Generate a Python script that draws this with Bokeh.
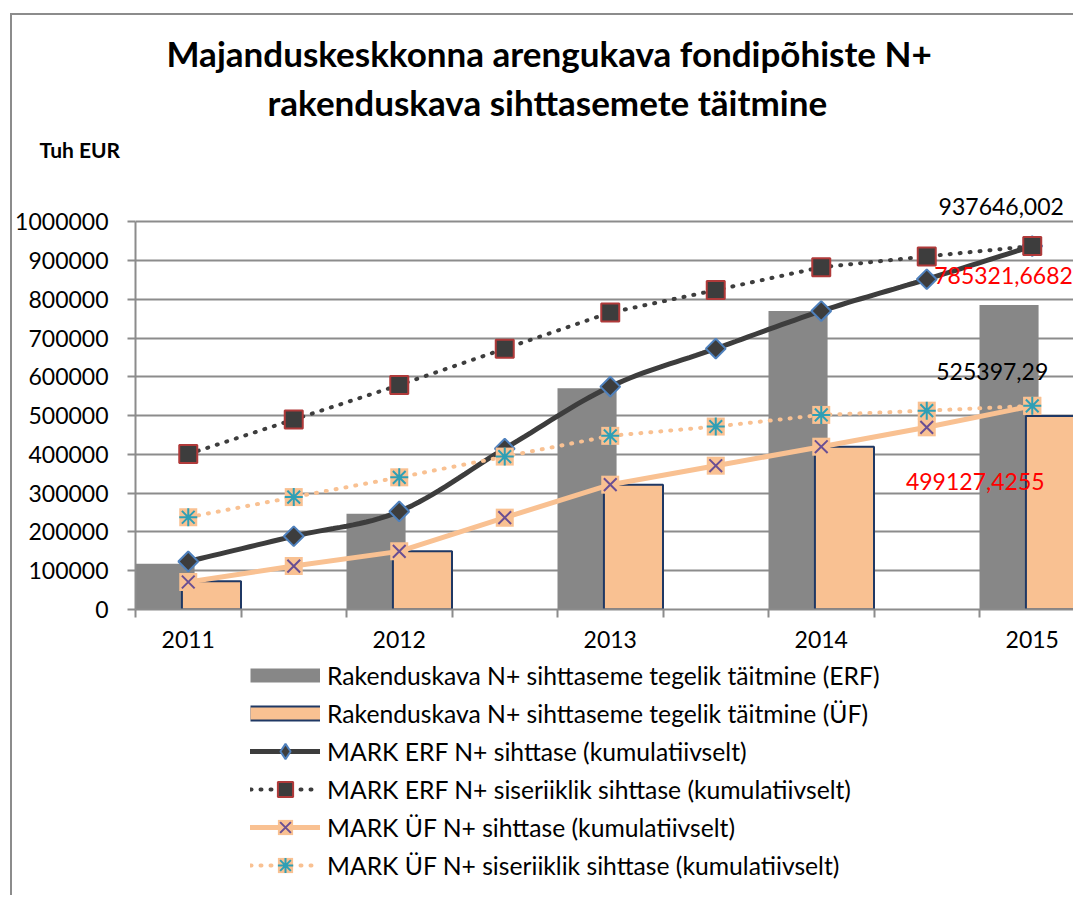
import math
from bokeh.plotting import figure
from bokeh.layouts import column
from bokeh.models import Range1d, FixedTicker, NumeralTickFormatter, Legend, LegendItem, Label, Title
from bokeh.embed import file_html
from bokeh.resources import INLINE

# ---------------- data ----------------
years = ["2011", "2012", "2013", "2014", "2015"]
erf_actual = [118000, 247000, 571000, 770000, 785321.6682]
uf_actual = [72800, 150000, 322000, 420000, 499127.4255]
# line series: one value per year and per half-year step (9 points)
erf_target = [124000, 189000, 253000, 415000, 575000, 673000, 770000, 852000, 937646.002]
erf_national = [401000, 490000, 579000, 673000, 766000, 824000, 883000, 911000, 937646.002]
uf_target = [71000, 112000, 150000, 237000, 322000, 371000, 420000, 470000, 525397.29]
uf_national = [238000, 290000, 341000, 394500, 448000, 472000, 502000, 513000, 525397.29]

series_names = [
    "Rakenduskava N+ sihttaseme tegelik täitmine (ERF)",
    "Rakenduskava N+ sihttaseme tegelik täitmine (ÜF)",
    "MARK ERF N+ sihttase (kumulatiivselt)",
    "MARK ERF N+ siseriiklik sihttase (kumulatiivselt)",
    "MARK ÜF N+ sihttase (kumulatiivselt)",
    "MARK ÜF N+ siseriiklik sihttase (kumulatiivselt)",
]
title_lines = ["Majanduskeskkonna arengukava fondipõhiste N+",
               "rakenduskava sihttasemete täitmine"]
unit_label = "Tuh EUR"

# ---------------- styling ----------------
FONT = "Lato"
GRID = "#8c8c8c"
DARK = "#3d3d3d"
PEACH = "#f9c192"
GRAYBAR = "#878787"
NAVY = "#1f3864"

n_slots = len(erf_target)
slot_x = [i + 0.5 for i in range(n_slots)]
year_slots = [2 * i for i in range(len(years))]
gray_x = [s + 0.28 for s in year_slots]
peach_x = [s + 0.72 for s in year_slots]


def smooth(xs, ys, steps=16):
    """Catmull-Rom rendering of a line (Excel 'smoothed line' look)."""
    ox, oy = [], []
    n = len(xs)
    for i in range(n - 1):
        p0 = (xs[max(i - 1, 0)], ys[max(i - 1, 0)])
        p1 = (xs[i], ys[i])
        p2 = (xs[i + 1], ys[i + 1])
        p3 = (xs[min(i + 2, n - 1)], ys[min(i + 2, n - 1)])
        for k in range(steps):
            t = k / steps
            t2, t3 = t * t, t * t * t
            for arr, j in ((ox, 0), (oy, 1)):
                arr.append(0.5 * ((2 * p1[j]) + (-p0[j] + p2[j]) * t
                                  + (2 * p0[j] - 5 * p1[j] + 4 * p2[j] - p3[j]) * t2
                                  + (-p0[j] + 3 * p1[j] - 3 * p2[j] + p3[j]) * t3))
    ox.append(xs[-1])
    oy.append(ys[-1])
    return ox, oy


FL = 122
FRAME_W = 939
PX_PER_MILLION = 388.0
Y_TOP = 1130000
FRAME_H = int(round(PX_PER_MILLION * Y_TOP / 1e6))
TOP_B, BOT_B = 156, 46
slot_px = 105.5

p = figure(frame_width=FRAME_W, frame_height=FRAME_H,
           x_range=Range1d(0, FRAME_W / slot_px), y_range=Range1d(0, Y_TOP),
           output_backend="svg", toolbar_location=None, title=None,
           min_border_left=FL, min_border_right=0, min_border_top=TOP_B, min_border_bottom=BOT_B,
           outline_line_color=None)

# ---- titles (stacked above the plot area, nearest first) ----
for txt, size, off, so in [(unit_label, "21px", -96, 19),
                           (title_lines[1], "35px", 132, 6),
                           (title_lines[0], "35px", 31, 3)]:
    p.add_layout(Title(text=txt, text_font=FONT, text_font_size=size,
                       text_font_style="bold", text_color="#000000", align="left",
                       offset=off, standoff=so), "above")

# axes
p.xgrid.visible = False
p.yaxis.ticker = FixedTicker(ticks=list(range(0, 1000001, 100000)))
p.yaxis.formatter = NumeralTickFormatter(format="0")
p.yaxis.bounds = (0, 1000000)
p.ygrid.grid_line_color = GRID
p.ygrid.grid_line_width = 2
for ax in (p.xaxis[0], p.yaxis[0]):
    ax.axis_line_color = GRID
    ax.axis_line_width = 2
    ax.major_label_text_font = FONT
    ax.major_label_text_font_size = "23px"
    ax.major_label_text_color = "#000000"
p.yaxis.major_tick_out = 8
p.yaxis.major_tick_in = 0
p.yaxis.major_tick_line_color = GRID
p.yaxis.major_tick_line_width = 2
p.yaxis.minor_tick_line_color = None
p.yaxis.major_label_standoff = 19

p.xaxis.ticker = FixedTicker(ticks=[slot_x[s] for s in year_slots],
                             minor_ticks=list(range(0, n_slots + 1)))
p.xaxis.major_label_overrides = {slot_x[s]: y for s, y in zip(year_slots, years)}
p.xaxis.major_tick_line_color = None
p.xaxis.major_tick_out = 0
p.xaxis.major_tick_in = 0
p.xaxis.minor_tick_line_color = GRID
p.xaxis.minor_tick_line_width = 2
p.xaxis.minor_tick_out = 8
p.xaxis.minor_tick_in = 0
p.xaxis.major_label_standoff = 13

# bars
p.vbar(x=gray_x, top=erf_actual, width=0.56, fill_color=GRAYBAR, line_color=None)
p.vbar(x=peach_x, top=uf_actual, width=0.56, fill_color=PEACH, line_color=NAVY, line_width=2)

# line series styles (shared by plot and legend)
line_styles = [
    dict(line_color=DARK, line_width=5, line_cap="round"),
    dict(line_color=DARK, line_width=4, line_dash="1 9", line_cap="round"),
    dict(line_color=PEACH, line_width=5, line_cap="round"),
    dict(line_color=PEACH, line_width=4, line_dash="1 9", line_cap="round"),
]
marker_styles = [
    [dict(marker="square", angle=math.pi / 4, size=14, fill_color=DARK, line_color="#4f81bd", line_width=2)],
    [dict(marker="square", size=18, fill_color=DARK, line_color="#b03a3a", line_width=2)],
    [dict(marker="square", size=18, fill_color=PEACH, line_color=None),
     dict(marker="x", size=18, line_color="#6a4f93", line_width=2)],
    [dict(marker="square", size=18, fill_color=PEACH, line_color=None),
     dict(marker="asterisk", size=18, line_color="#2f9fb5", line_width=2)],
]
line_values = [erf_target, erf_national, uf_target, uf_national]

for k, vals in enumerate(line_values):
    if k == 0:
        lx, ly = smooth(slot_x, vals)
    else:
        lx, ly = slot_x, vals
    p.line(lx, ly, **line_styles[k])
    for ms in marker_styles[k]:
        p.scatter(slot_x, vals, **ms)


# data labels at the last category
def fmt(v):
    return repr(v).replace(".", ",")


last = slot_x[-1]
for val, col, align, dx, dy in [
    (erf_national[-1], "#000000", "center", -31, 40),
    (erf_actual[-1], "#ff0000", "left", -98, 30),
    (uf_national[-1], "#000000", "center", -40, 34),
    (uf_actual[-1], "#ff0000", "center", -57, -65),
]:
    p.add_layout(Label(x=last, y=val, x_offset=dx, y_offset=dy, text=fmt(val),
                       text_align=align, text_baseline="alphabetic", text_font=FONT,
                       text_font_size="23px", text_color=col))

# ---------------- legend strip below the chart ----------------
LEG_H = 240
GLYPH_H = 38
pl = figure(width=FL + FRAME_W, height=LEG_H, x_range=Range1d(0, 1), y_range=Range1d(0, 1),
            x_axis_type=None, y_axis_type=None, output_backend="svg",
            toolbar_location=None, min_border=0, outline_line_color=None)
pl.grid.visible = False

# legend swatch renderers: same styles, placed outside the visible range of the strip
off_x, off_y = [-5, -4], [-5, -4]
sw1 = pl.line(off_x, off_y, line_color=GRAYBAR, line_width=14)
sw2a = pl.line(off_x, off_y, line_color=NAVY, line_width=16)
sw2b = pl.line(off_x, off_y, line_color=PEACH, line_width=12)
leg_renderers = [[sw1], [sw2a, sw2b]]
for k in range(4):
    rs = [pl.line(off_x, off_y, **line_styles[k])]
    for ms in marker_styles[k]:
        ms = dict(ms)
        if ms.get("angle"):
            # legend swatches ignore rotation: use the diamond marker instead
            ms.pop("angle")
            ms["marker"] = "diamond"
        rs.append(pl.scatter(off_x, off_y, **ms))
    leg_renderers.append(rs)

legend = Legend(items=[LegendItem(label=n, renderers=r) for n, r in zip(series_names, leg_renderers)])
legend.glyph_width = 70
legend.glyph_height = GLYPH_H
legend.spacing = 0
legend.label_standoff = 7
legend.padding = 0
legend.margin = 0
legend.border_line_color = None
legend.background_fill_alpha = 0
legend.label_text_font = FONT
legend.label_text_font_size = "24.7px"
legend.label_text_color = "#000000"
legend.location = (115, LEG_H - 6 * GLYPH_H - 1)
pl.add_layout(legend, "center")

layout = column(p, pl, spacing=0,
                styles={"border-top": "2px solid #8c8c8c", "border-left": "2px solid #8c8c8c"})
layout.margin = (13, 0, 0, 10)

open("out.html", "w").write(file_html(layout, INLINE))
